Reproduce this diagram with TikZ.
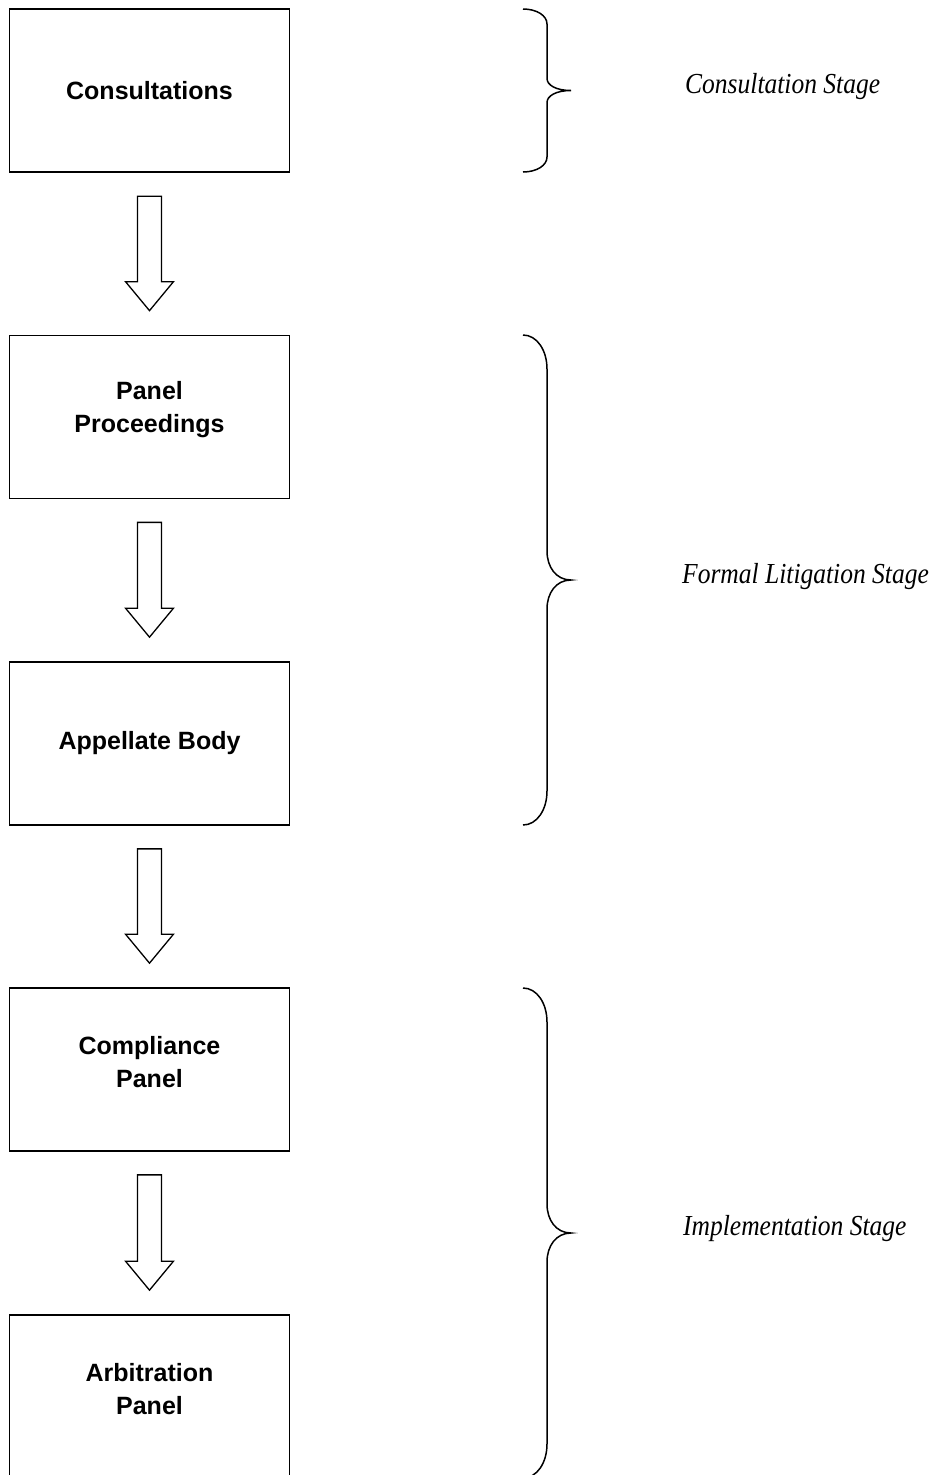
\documentclass[tikz,border=0pt]{standalone}
\usepackage{fontspec}
\setmainfont{Liberation Serif}
\setsansfont{Liberation Sans}
\usetikzlibrary{calc}
\tikzset{
  stagebox/.style={draw, line width=1.7pt, minimum width=280pt, minimum height=163pt,
    inner sep=0pt, align=center, font=\sffamily\bfseries\fontsize{25}{33}\selectfont},
  boxtext/.style={inner sep=0pt, align=center, font=\sffamily\bfseries\fontsize{25}{33}\selectfont},
  blockarrow/.style={draw, line width=1.3pt, line join=miter, fill=white},
  bracestyle/.style={draw, line width=1.5pt},
  stagelabel/.style={anchor=base west, inner sep=0pt, xscale=0.88,
    font=\itshape\fontsize{29}{34}\selectfont},
}
\newcommand\flowarrow[2]{%
  \draw[blockarrow] ($(#1.south)+(-12,23)$) -- ($(#1.south)+(12,23)$)
    -- ($(#2.north)+(12,-53)$) -- ($(#2.north)+(24,-53)$)
    -- ($(#2.north)+(0,-24)$)
    -- ($(#2.north)+(-24,-53)$) -- ($(#2.north)+(-12,-53)$) -- cycle;}
\newcommand\stagebrace[4]{%
  \pgfmathsetmacro\brT{#1}\pgfmathsetmacro\brB{#2}\pgfmathsetmacro\brM{(#1+#2)/2}%
  \draw[bracestyle] (523,\brT) .. controls (537,\brT) and (547,{\brT+#3*0.45}) .. (547,{\brT+#3})
    -- (547,{\brM-#4}) .. controls (547,{\brM-#4*0.45}) and (556,\brM) .. (571,\brM)
    .. controls (556,\brM) and (547,{\brM+#4*0.45}) .. (547,{\brM+#4})
    -- (547,{\brB-#3}) .. controls (547,{\brB-#3*0.45}) and (537,\brB) .. (523,\brB);}
\begin{document}
\begin{tikzpicture}[x=1pt, y=-1pt]
  \clip (0,0) rectangle (937,1475);
  \fill[white] (0,0) rectangle (937,1475);
  % boxes
  \node[stagebox] (cons) at (149.5,90.8) {Consultations};
  \node[stagebox] (panel) at (149.5,417) {};
  \node[boxtext] (panelt) at ([yshift=7pt]panel.center) {Panel\\Proceedings};
  \node[stagebox] (ab) at (149.5,743.5) {Appellate Body};
  \node[stagebox] (comp) at (149.5,1069.5) {};
  \node[boxtext] (compt) at ([yshift=7pt]comp.center) {Compliance\\Panel};
  \node[stagebox] (arb) at (149.5,1396.5) {};
  \node[boxtext] (arbt) at ([yshift=7pt]arb.center) {Arbitration\\Panel};
  % arrows
  \flowarrow{cons}{panel}
  \flowarrow{panel}{ab}
  \flowarrow{ab}{comp}
  \flowarrow{comp}{arb}
  % braces
  \stagebrace{9}{172}{15}{12}
  \stagebrace{335}{825}{34}{29}
  \stagebrace{988}{1478}{34}{29}
  % labels
  \node[stagelabel] (l1) at (685,93) {Consultation Stage};
  \node[stagelabel] (l2) at (682,583) {Formal Litigation Stage};
  \node[stagelabel] (l3) at (683,1235) {Implementation Stage};
\end{tikzpicture}
\end{document}
